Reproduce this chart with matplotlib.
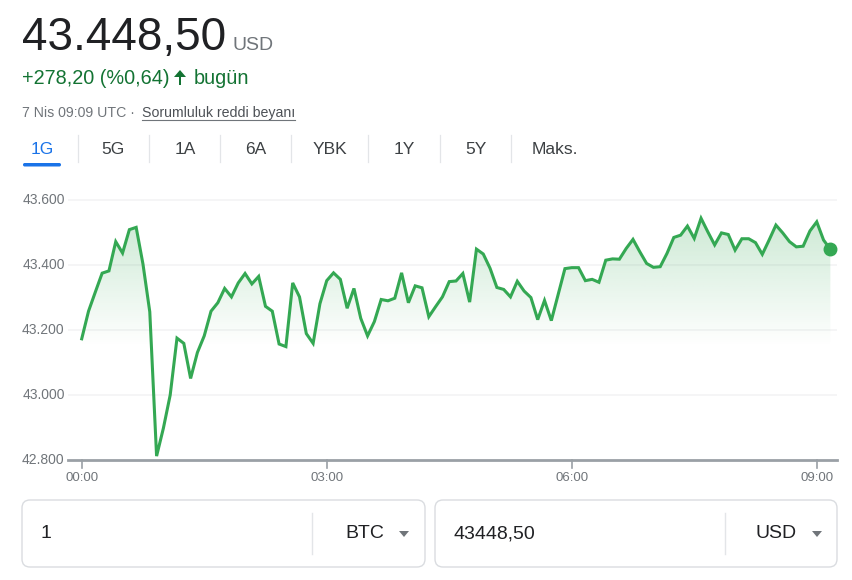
import numpy as np
import matplotlib
matplotlib.use("Agg")
import matplotlib.pyplot as plt
from matplotlib.patches import FancyBboxPatch, Polygon, Rectangle

plt.rcParams['font.family'] = ['Liberation Sans', 'DejaVu Sans']

# fiyatlar, 5 dakikalik aralik (00:00 - 09:10 UTC)
prices = [
    43173, 43258, 43317, 43375, 43382, 43472, 43437, 43509, 43516, 43403,
    43256, 42812, 42898, 43000, 43175, 43159, 43051, 43131, 43182, 43258,
    43284, 43328, 43302, 43345, 43374, 43342, 43365, 43273, 43258, 43157,
    43149, 43345, 43302, 43189, 43159, 43281, 43352, 43376, 43356, 43267,
    43328, 43236, 43182, 43226, 43294, 43290, 43298, 43376, 43284, 43336,
    43330, 43241, 43272, 43302, 43349, 43351, 43374, 43286, 43449, 43434,
    43390, 43331, 43325, 43302, 43350, 43320, 43300, 43232, 43291, 43229,
    43309, 43389, 43392, 43392, 43352, 43356, 43347, 43415, 43419, 43418,
    43451, 43479, 43441, 43405, 43393, 43395, 43436, 43485, 43492, 43520,
    43482, 43544, 43502, 43462, 43499, 43494, 43446, 43481, 43481, 43469,
    43433, 43477, 43523, 43499, 43472, 43456, 43458, 43505, 43533, 43477,
    43448.5,
]
hours = np.arange(len(prices)) * 5 / 60.0

y_ticks = [42800, 43000, 43200, 43400, 43600]
x_ticks = [0, 3, 6, 9]
x_labels = ["00:00", "03:00", "06:00", "09:00"]

tabs = ["1G", "5G", "1A", "6A", "YBK", "1Y", "5Y", "Maks."]
tab_x = [42, 113, 185, 256, 330, 404, 476, 555]
sep_x = [78, 149, 220, 291, 368, 440, 511]

GREEN = "#34a853"
GRAY = "#70757a"
DARK = "#202124"

W, H = 852, 580
fig = plt.figure(figsize=(W / 100, H / 100), dpi=100)

# katman: piksel koordinatlari
ov = fig.add_axes([0, 0, 1, 1])
ov.set_xlim(0, W)
ov.set_ylim(H, 0)
ov.axis("off")

# grafik
ax = fig.add_axes([68 / W, 1 - 460 / H, (837 - 68) / W, (460 - 190) / H])
ymin, ymax = 42800, 43631
xmin, xmax = -0.168, 9.248
ax.set_xlim(xmin, xmax)
ax.set_ylim(ymin, ymax)
for s in ax.spines.values():
    s.set_visible(False)
ax.set_xticks([])
ax.set_yticks([])
ax.patch.set_alpha(0)

for v in y_ticks[1:]:
    ax.axhline(v, color="#f3f4f5", lw=1.2, zorder=0)
ax.axhline(ymin, color="#9aa0a6", lw=2, zorder=3, clip_on=False)

# gradyan dolgu
poly = ax.fill_between(hours, prices, ymin, facecolor="none", edgecolor="none")
grad = np.zeros((200, 2, 4))
grad[..., 0] = 0x34 / 255
grad[..., 1] = 0xa8 / 255
grad[..., 2] = 0x53 / 255
yy = np.linspace(ymax, ymin, 200)
alpha = np.clip((yy - 43150) / (43600 - 43150), 0, 1) * 0.28
grad[..., 3] = alpha[:, None]
im = ax.imshow(grad, extent=[xmin, xmax, ymin, ymax], aspect="auto",
               origin="upper", zorder=1)
im.set_clip_path(poly.get_paths()[0], transform=ax.transData)

ax.plot(hours, prices, color=GREEN, lw=2.2, zorder=4, solid_joinstyle="miter")
ax.plot(hours[-1], prices[-1], "o", color=GREEN, ms=9, zorder=5, clip_on=False)

for v in y_ticks:
    ax.text(xmin - 0.04, v, f"{v:,}".replace(",", "."), ha="right", va="center",
            fontsize=10, color=GRAY)
for h, lab in zip(x_ticks, x_labels):
    ax.plot([h, h], [ymin, ymin - 25], color="#9aa0a6", lw=1.2, clip_on=False)
    ax.text(h, ymin - 55, lab, ha="center", va="center", fontsize=9.5, color=GRAY)

# baslik
ov.text(22, 50, "43.448,50", fontsize=33, color=DARK, va="baseline")
ov.text(233, 50, "USD", fontsize=14, color=GRAY, va="baseline")
ov.text(22, 84, "+278,20 (%0,64)", fontsize=14.3, color="#137333", va="baseline")
ov.add_patch(Polygon([[174, 77], [180, 70], [186, 77]], closed=True,
                     color="#137333", lw=0))
ov.add_patch(Rectangle((178.6, 76), 2.8, 9, color="#137333", lw=0))
ov.text(194, 84, "bugün", fontsize=14.3, color="#137333", va="baseline")

ov.text(22, 117, "7 Nis 09:09 UTC · ", fontsize=10.2, color=GRAY, va="baseline")
disc = ov.text(142, 117, "Sorumluluk reddi beyanı", fontsize=10.2, color="#4d5156",
               va="baseline")
fig.canvas.draw()
bb = disc.get_window_extent().transformed(ov.transData.inverted())
ov.plot([bb.x0, bb.x1], [119.5, 119.5], color="#70757a", lw=0.8)

# sekmeler
for i, (t, x) in enumerate(zip(tabs, tab_x)):
    ov.text(x, 149, t, fontsize=12.5, ha="center", va="center",
            color="#1a73e8" if i == 0 else "#3c4043")
for x in sep_x:
    ov.plot([x, x], [135, 162], color="#e3e5e8", lw=0.9)
ov.add_patch(FancyBboxPatch((23, 163), 38, 3.5, boxstyle="round,pad=0,rounding_size=1.7",
                            color="#1a73e8", lw=0))

# donusturucu kutulari
boxes = [(22, 425, 312, "1", "BTC", 384, 404), (435, 837, 725, "43448,50", "USD", 797, 817)]
for x0, x1, sx, val, cur, cx, tx in boxes:
    ov.add_patch(FancyBboxPatch((x0, 500), x1 - x0, 67,
                                boxstyle="round,pad=0,rounding_size=8",
                                facecolor="white", edgecolor="#dadce0", lw=1))
    ov.plot([sx, sx], [513, 554], color="#e3e5e8", lw=1)
    ov.text(x0 + 18, 534, val, fontsize=14, color=DARK, va="center")
    ov.text(cx, 534, cur, fontsize=14, color=DARK, va="center", ha="right")
    ov.add_patch(Polygon([[tx - 5, 531], [tx + 5, 531], [tx, 537]], closed=True,
                         color=GRAY, lw=0))

fig.savefig("out.png", dpi=100)
